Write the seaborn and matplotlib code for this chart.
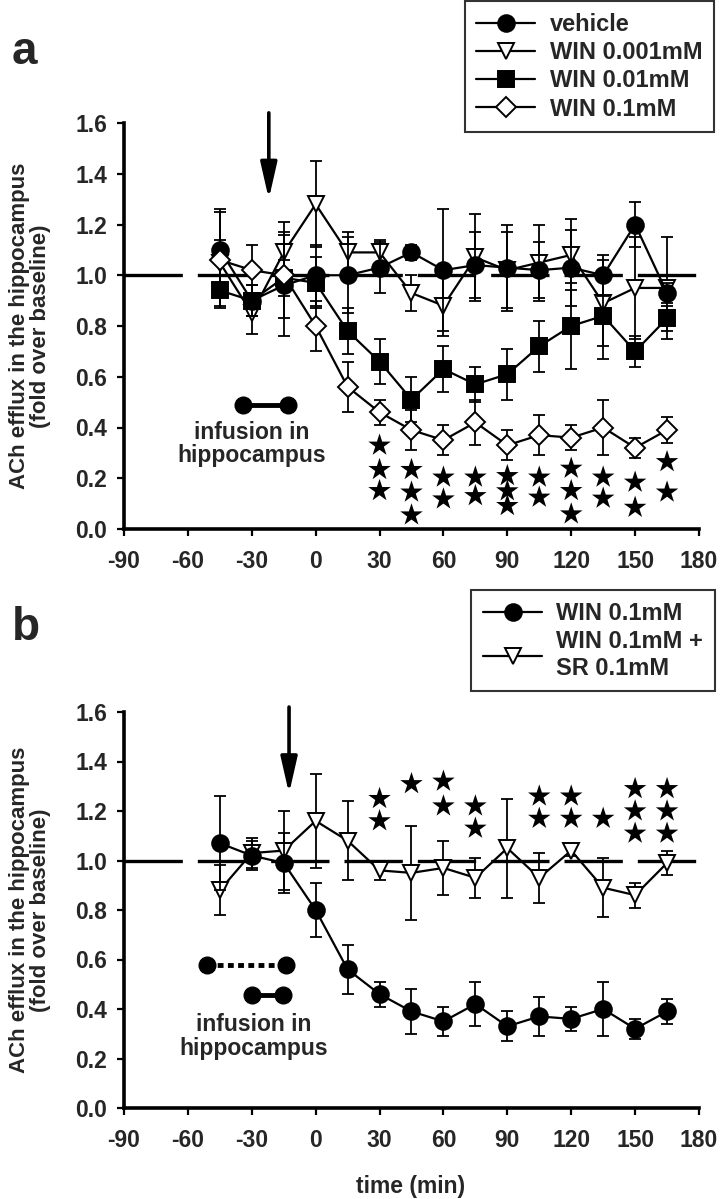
import numpy as np
import pandas as pd
import matplotlib
matplotlib.use("Agg")
import matplotlib.pyplot as plt
import seaborn as sns

# tiempos de muestreo (min)
tiempo = [-45, -30, -15, 0, 15, 30, 45, 60, 75, 90, 105, 120, 135, 150, 165]

# panel a
vehicle = [1.10, 0.90, 0.96, 1.00, 1.00, 1.03, 1.09, 1.02, 1.04, 1.03, 1.02, 1.03, 1.00, 1.20, 0.93]
vehicle_sem = [0.16, 0.06, 0.20, 0.12, 0.15, 0.10, 0.03, 0.24, 0.13, 0.17, 0.11, 0.15, 0.08, 0.09, 0.04]
win001 = [1.05, 0.85, 1.09, 1.28, 1.09, 1.09, 0.93, 0.88, 1.07, 1.02, 1.05, 1.08, 0.89, 0.95, 0.95]
win001_sem = [0.09, 0.08, 0.12, 0.17, 0.08, 0.05, 0.07, 0.12, 0.17, 0.15, 0.15, 0.14, 0.17, 0.20, 0.20]
win01 = [0.94, 0.90, 0.99, 0.97, 0.78, 0.66, 0.51, 0.63, 0.57, 0.61, 0.72, 0.80, 0.84, 0.70, 0.83]
win01_sem = [0.06, 0.06, 0.07, 0.10, 0.09, 0.09, 0.09, 0.09, 0.07, 0.10, 0.10, 0.17, 0.17, 0.06, 0.05]
win1 = [1.06, 1.02, 1.00, 0.80, 0.56, 0.46, 0.39, 0.35, 0.42, 0.33, 0.37, 0.36, 0.40, 0.32, 0.39]
win1_sem = [0.19, 0.10, 0.17, 0.10, 0.10, 0.05, 0.08, 0.06, 0.09, 0.06, 0.08, 0.05, 0.11, 0.04, 0.05]

estrellas_a_t = [30, 30, 30, 45, 45, 45, 60, 60, 75, 75, 90, 90, 90, 105, 105,
                 120, 120, 120, 135, 135, 150, 150, 165, 165]
estrellas_a_y = [0.33, 0.234, 0.151, 0.234, 0.145, 0.055, 0.204, 0.118, 0.204, 0.131,
                 0.21, 0.15, 0.092, 0.204, 0.125, 0.239, 0.151, 0.059, 0.204, 0.121,
                 0.184, 0.085, 0.265, 0.145]

# panel b
b_win = [1.07, 1.02, 0.99, 0.80, 0.56, 0.46, 0.39, 0.35, 0.42, 0.33, 0.37, 0.36, 0.40, 0.32, 0.39]
b_win_sem = [0.19, 0.06, 0.12, 0.11, 0.10, 0.05, 0.09, 0.06, 0.09, 0.06, 0.08, 0.05, 0.11, 0.04, 0.05]
b_sr = [0.88, 1.03, 1.04, 1.16, 1.08, 0.96, 0.95, 0.97, 0.93, 1.05, 0.93, 1.04, 0.89, 0.86, 0.99]
b_sr_sem = [0.10, 0.06, 0.16, 0.19, 0.16, 0.04, 0.19, 0.11, 0.08, 0.20, 0.10, 0.02, 0.12, 0.05, 0.05]

estrellas_b_t = [30, 30, 45, 60, 60, 75, 75, 105, 105, 120, 120, 135, 150, 150, 150, 165, 165, 165]
estrellas_b_y = [1.25, 1.16, 1.31, 1.32, 1.22, 1.22, 1.13, 1.26, 1.17, 1.26, 1.17, 1.17,
                 1.29, 1.20, 1.11, 1.29, 1.20, 1.11]

xticks = [-90, -60, -30, 0, 30, 60, 90, 120, 150, 180]
yticks = [0.0, 0.2, 0.4, 0.6, 0.8, 1.0, 1.2, 1.4, 1.6]

sns.set_theme(style="ticks")
plt.rcParams["font.family"] = ["Liberation Sans", "DejaVu Sans"]
plt.rcParams["font.weight"] = "bold"
plt.rcParams["axes.unicode_minus"] = False

W, H = 723, 1199
fig = plt.figure(figsize=(W / 100, H / 100), dpi=100)
ax_a = fig.add_axes([124 / W, 1 - 529 / H, 575 / W, 406 / H])
ax_b = fig.add_axes([124 / W, 1 - 1108 / H, 575 / W, 396 / H])


def serie(ax, y, sem, marker, fill, label, ms=12, z=3):
    ax.errorbar(tiempo, y, yerr=sem, fmt="none", ecolor="black", elinewidth=1.3,
                capsize=4.5, capthick=1.3, zorder=z - 0.5)
    df = pd.DataFrame({"t": tiempo, "v": y})
    sns.lineplot(data=df, x="t", y="v", ax=ax, color="black", lw=1.6, marker=marker,
                 markersize=ms, markerfacecolor=fill, markeredgecolor="black",
                 markeredgewidth=1.4, label=label, zorder=z)


def ejes(ax):
    ax.set_xlim(-90, 180)
    ax.set_ylim(0, 1.6)
    ax.set_xticks(xticks)
    ax.set_xticklabels([str(v) for v in xticks])
    ax.set_yticks(yticks)
    ax.set_yticklabels([f"{v:.1f}" for v in yticks])
    ax.tick_params(axis="both", labelsize=16.5, width=1.6, length=5, color="black")
    ax.tick_params(axis="y", pad=7)
    ax.tick_params(axis="x", pad=10)
    for lab in ax.get_xticklabels() + ax.get_yticklabels():
        lab.set_fontweight("bold")
    for s in ["left", "bottom"]:
        ax.spines[s].set_linewidth(2.6)
        ax.spines[s].set_color("black")
    sns.despine(ax=ax)
    ax.set_xlabel("")
    ax.set_ylabel("")
    # linea base discontinua
    ax.plot([-90, 180], [1.0, 1.0], color="black", lw=2.4,
            linestyle=(0, (17.5, 4.5)), dash_capstyle="butt", zorder=1)


# ---- panel a ----
serie(ax_a, win001, win001_sem, "v", "white", "WIN 0.001mM", z=3)
serie(ax_a, win01, win01_sem, "s", "black", "WIN 0.01mM", ms=11, z=4)
serie(ax_a, vehicle, vehicle_sem, "o", "black", "vehicle", z=5)
serie(ax_a, win1, win1_sem, "D", "white", "WIN 0.1mM", ms=10.5, z=6)
ejes(ax_a)
sns.scatterplot(x=estrellas_a_t, y=estrellas_a_y, ax=ax_a, marker="*", s=290,
                color="black", edgecolor="none", zorder=7, legend=False)
ax_a.annotate("", xy=(-22, 1.30), xytext=(-22, 1.64), annotation_clip=False,
              arrowprops=dict(arrowstyle="-|>,head_length=1.1,head_width=0.25",
                              color="black", lw=2.6, mutation_scale=20, shrinkA=0, shrinkB=0))
ax_a.plot([-34, -13], [0.49, 0.49], color="black", lw=3.5, marker="o", markersize=12,
          solid_capstyle="butt")
ax_a.text(-30, 0.335, "infusion in\nhippocampus", ha="center", va="center",
          fontsize=16.5, fontweight="bold", linespacing=1.05)

h, l = ax_a.get_legend_handles_labels()
orden = ["vehicle", "WIN 0.001mM", "WIN 0.01mM", "WIN 0.1mM"]
hs = [h[l.index(o)] for o in orden]
leg = ax_a.legend(hs, orden, loc="upper right", bbox_to_anchor=(714 / W, 0.999),
                  bbox_transform=fig.transFigure, fontsize=17, frameon=True, fancybox=False,
                  handlelength=2.5, handletextpad=0.6, labelspacing=0.22, borderpad=0.5,
                  borderaxespad=0)
leg.get_frame().set_edgecolor("black")
leg.get_frame().set_linewidth(1.5)
for t in leg.get_texts():
    t.set_fontweight("bold")

# ---- panel b ----
serie(ax_b, b_sr, b_sr_sem, "v", "white", "WIN 0.1mM +\nSR 0.1mM", z=3)
serie(ax_b, b_win, b_win_sem, "o", "black", "WIN 0.1mM", z=4)
ejes(ax_b)
sns.scatterplot(x=estrellas_b_t, y=estrellas_b_y, ax=ax_b, marker="*", s=290,
                color="black", edgecolor="none", zorder=7, legend=False)
ax_b.annotate("", xy=(-12.5, 1.27), xytext=(-12.5, 1.62), annotation_clip=False,
              arrowprops=dict(arrowstyle="-|>,head_length=1.1,head_width=0.25",
                              color="black", lw=2.6, mutation_scale=20, shrinkA=0, shrinkB=0))
ax_b.plot([-51, -14], [0.576, 0.576], color="black", lw=3.5, linestyle=(0, (1.2, 0.9)),
          dash_capstyle="butt", marker="o", markersize=12)
ax_b.plot([-30, -15.5], [0.458, 0.458], color="black", lw=3.5, marker="o", markersize=12)
ax_b.text(-29, 0.29, "infusion in\nhippocampus", ha="center", va="center",
          fontsize=16.5, fontweight="bold", linespacing=1.05)

h, l = ax_b.get_legend_handles_labels()
orden_b = ["WIN 0.1mM", "WIN 0.1mM +\nSR 0.1mM"]
hs = [h[l.index(o)] for o in orden_b]
leg = ax_b.legend(hs, orden_b, loc="upper right", bbox_to_anchor=(715 / W, 1 - 590 / H),
                  bbox_transform=fig.transFigure, fontsize=17, frameon=True, fancybox=False,
                  handlelength=2.5, handletextpad=0.6, labelspacing=0.22, borderpad=0.5,
                  borderaxespad=0)
leg.get_frame().set_edgecolor("black")
leg.get_frame().set_linewidth(1.5)
for t in leg.get_texts():
    t.set_fontweight("bold")

# etiquetas
ylab = "ACh efflux in the hippocampus\n(fold over baseline)"
fig.text(30 / W, 1 - 326 / H, ylab, rotation=90, ha="center", va="center",
         fontsize=16, fontweight="bold", linespacing=0.95)
fig.text(30 / W, 1 - 910 / H, ylab, rotation=90, ha="center", va="center",
         fontsize=16, fontweight="bold", linespacing=0.95)
fig.text(411 / W, 1 - 1186 / H, "time (min)", ha="center", va="center",
         fontsize=16.5, fontweight="bold")
fig.text(12 / W, 1 - 64 / H, "a", fontsize=33, fontweight="bold", ha="left", va="baseline")
fig.text(12 / W, 1 - 640 / H, "b", fontsize=33, fontweight="bold", ha="left", va="baseline")

fig.savefig("out.png", dpi=100)
